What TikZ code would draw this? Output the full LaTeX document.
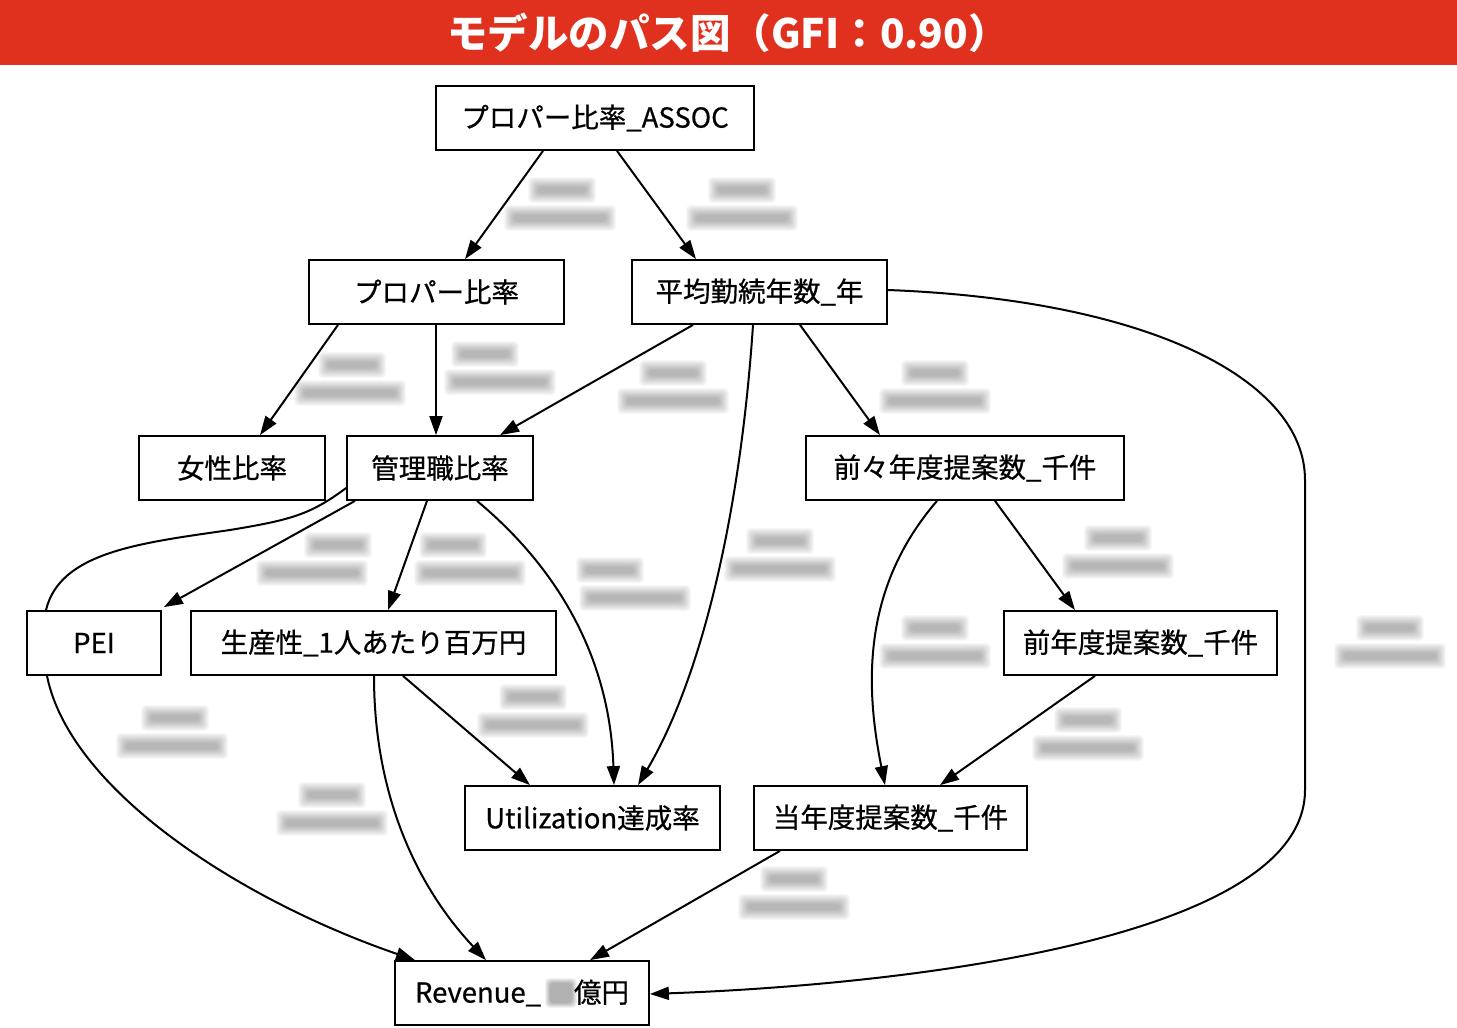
\documentclass[tikz,border=0pt]{standalone}
\usepackage{fontspec}
\setmainfont{Noto Sans CJK JP}
\newfontfamily\nodefont{Noto Sans CJK JP}[FakeBold=0.6]
\usetikzlibrary{arrows.meta,calc}
\pgfdeclarelayer{bg}
\pgfsetlayers{bg,main}
\definecolor{titlered}{HTML}{E0311F}
\newcommand\gblob[5]{%
  \foreach \k in {0,...,11}{%
    \pgfmathsetmacro\o{#5*(1-\k/11)}%
    \fill[black,opacity=0.026,rounded corners=4pt] ({#1-#3/2-\o},{#2-#4/2-\o}) rectangle ({#1+#3/2+\o},{#2+#4/2+\o});
  }}
\newcommand\edgelbl[3]{%
  \gblob{#1}{#3}{48}{6}{10}%
  \gblob{#2}{#3+28}{92}{6}{10}}
\begin{document}
\begin{tikzpicture}[x=1pt,y=-1pt,
  box/.style={draw,line width=1.8pt,fill=white,inner sep=0pt,minimum height=64pt,font=\nodefont\fontsize{27.5}{30}\selectfont},
  edge/.style={line width=2pt,-{Triangle[length=19pt,width=13pt]}}]
\useasboundingbox (0,0) rectangle (1457,1028);
\fill[titlered] (0,0) rectangle (1457,65);
\node[text=white,font=\fontsize{40.5}{44}\selectfont\bfseries] (title) at (728,33) {モデルのパス図（GFI：0.90）};

\node[box,minimum width=318pt] (assoc) at (595,118) {プロパー比率\_ASSOC};
\node[box,minimum width=255pt] (prop) at (436.5,292) {プロパー比率};
\node[box,minimum width=255pt] (avg) at (759.5,292) {平均勤続年数\_年};
\node[box,minimum width=186pt] (fem) at (232,468) {女性比率};
\node[box,minimum width=186pt] (mgr) at (440,468) {管理職比率};
\node[box,minimum width=318pt] (pp) at (965,468) {前々年度提案数\_千件};
\node[box,minimum width=134pt] (pei) at (94,643) {PEI};
\node[box,minimum width=365pt] (prod) at (373.5,643) {生産性\_1人あたり百万円};
\node[box,minimum width=273pt] (prev) at (1140.5,643) {前年度提案数\_千件};
\node[box,minimum width=255pt] (util) at (592.5,818) {Utilization達成率};
\node[box,minimum width=273pt] (cur) at (890.5,818) {当年度提案数\_千件};
\node[box,minimum width=254pt] (rev) at (522,993) {Revenue\_\hspace*{33pt}億円};
\gblob{561}{993}{22}{20}{5}

\begin{pgfonlayer}{bg}
\edgelbl{562}{560}{190}
\edgelbl{742}{742}{190}
\edgelbl{352}{350}{365}
\edgelbl{485}{500}{354}
\edgelbl{673}{673}{373}
\edgelbl{935}{935}{373}
\edgelbl{338}{312}{545}
\edgelbl{453}{470}{545}
\edgelbl{610}{635}{570}
\edgelbl{780}{780}{541}
\edgelbl{1118}{1118}{538}
\edgelbl{935}{935}{628}
\edgelbl{1390}{1390}{628}
\edgelbl{175}{172}{718}
\edgelbl{533}{533}{697}
\edgelbl{332}{332}{795}
\edgelbl{1088}{1088}{720}
\edgelbl{794}{794}{879}

\draw[edge] ([xshift=-52pt]assoc.south) -- ([xshift=28.5pt]prop.north);
\draw[edge] ([xshift=22pt]assoc.south) -- ([xshift=-63.5pt]avg.north);
\draw[edge] ([xshift=-98.5pt]prop.south) -- ([xshift=28pt]fem.north);
\draw[edge] ([xshift=-0.5pt]prop.south) -- ([xshift=-4pt]mgr.north);
\draw[edge] ([xshift=-66.5pt]avg.south) -- ([xshift=60pt]mgr.north);
\draw[edge] ([xshift=-6.5pt]avg.south) .. controls (740,520) and (700,680) .. ([xshift=45.5pt]util.north);
\draw[edge] ([xshift=40.5pt]avg.south) -- ([xshift=-85pt]pp.north);
\draw[edge] ([yshift=2pt]avg.east) .. controls (1150,300) and (1305,380) .. (1305,480) -- (1305,790) .. controls (1305,940) and (900,985) .. ([yshift=-1pt]rev.east);
\draw[edge] ([xshift=-85pt]mgr.south) -- ([xshift=2pt,yshift=3pt]pei.north east);
\draw[edge] ([xshift=-13pt]mgr.south) -- ([xshift=14.5pt]prod.north);
\draw[edge] ([xshift=37pt]mgr.south) .. controls (560,570) and (610,660) .. ([xshift=21.5pt]util.north);
\draw[edge] ([yshift=-20pt]mgr.west) .. controls (310,515) and (290,520) .. (230,530) .. controls (140,543) and (60,552) .. ([xshift=-48pt]pei.north) -- ([xshift=-47pt]pei.south) .. controls (70,790) and (240,900) .. ([xshift=-107pt]rev.north);
\draw[edge] ([xshift=29.5pt]prod.south) -- ([xshift=-62.5pt]util.north);
\draw[edge] ([xshift=0.5pt]prod.south) .. controls (374,800) and (420,890) .. ([xshift=-36pt]rev.north);
\draw[edge] ([xshift=-28pt]pp.south) .. controls (860,590) and (866,690) .. ([xshift=-5.5pt]cur.north);
\draw[edge] ([xshift=30pt]pp.south) -- ([xshift=-65.5pt]prev.north);
\draw[edge] ([xshift=-45.5pt]prev.south) -- ([xshift=49.5pt]cur.north);
\draw[edge] ([xshift=-110.5pt]cur.south) -- ([xshift=68pt]rev.north);
\end{pgfonlayer}
\end{tikzpicture}
\end{document}
